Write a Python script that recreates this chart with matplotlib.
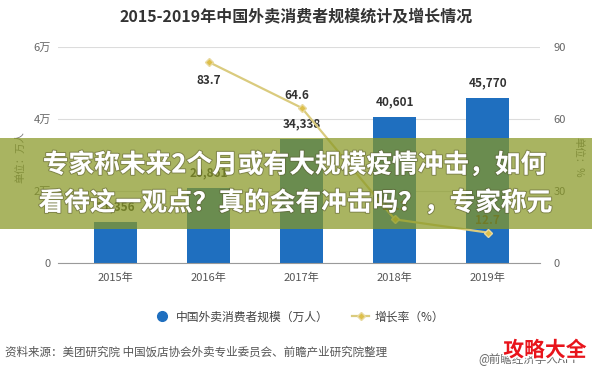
import matplotlib
matplotlib.use("Agg")
import matplotlib.pyplot as plt
import matplotlib.patheffects as pe
from matplotlib.patches import Rectangle
from matplotlib.lines import Line2D

plt.rcParams['font.family'] = ['Noto Sans CJK SC', 'DejaVu Sans']

years = ['2015年', '2016年', '2017年', '2018年', '2019年']
users = [11356, 20861, 34338, 40601, 45770]      # 万人
growth_years = [1, 2, 3, 4]                        # 2016-2019
growth = [83.7, 64.6, 18.2, 12.7]                  # %
left_ticks = [0, 20000, 40000, 60000]
left_labels = ['0', '2万', '4万', '6万']
right_ticks = [0, 30, 60, 90]

fig = plt.figure(figsize=(5.92, 3.69), dpi=100)
fig.patch.set_facecolor('white')

ax = fig.add_axes([0.098, 0.287, 0.814, 0.586])
x = list(range(len(years)))
ax.bar(x, users, width=0.46, color='#1F6FBF', zorder=2)
ax.set_xlim(-0.62, 4.56)
ax.set_ylim(0, 60000)
ax.set_yticks(left_ticks)
ax.set_yticklabels(left_labels)
ax.set_xticks(x)
ax.set_xticklabels(years)
ax.yaxis.grid(True, color='#dcdcdc', lw=0.8, zorder=0)
ax.set_axisbelow(True)
for s in ['top', 'right', 'left']:
    ax.spines[s].set_visible(False)
ax.spines['bottom'].set_color('#9a9a9a')
ax.tick_params(axis='y', length=0, pad=5, labelsize=8, labelcolor='#666666')
ax.tick_params(axis='x', length=0, pad=7, labelsize=8, labelcolor='#555555')

# bar value labels
for xi, v in zip(x, users):
    ax.text(xi, v + 2400, f'{v:,}', ha='center', va='bottom', fontsize=8.5,
            fontweight='bold', color='#333333', zorder=4)

ax2 = ax.twinx()
ax2.set_ylim(0, 90)
ax2.set_yticks(right_ticks)
for s in ax2.spines.values():
    s.set_visible(False)
ax2.tick_params(axis='y', length=0, pad=10, labelsize=8, labelcolor='#666666')
ax2.plot(growth_years, growth, color='#DACB7E', lw=1.6, marker='D', ms=4.5,
         mfc='#DDBF4A', mec='#E8D9A0', zorder=3)
offsets = [-13, 9, 9, 9]
for gx, g, off in zip(growth_years, growth, offsets):
    ax2.text(gx - 0.05 if gx == 2 else gx, g, f'{g}', ha='center',
             va='center', fontsize=8.5, fontweight='bold', color='#333333',
             transform=ax2.transData + matplotlib.transforms.ScaledTranslation(0, off / 72, fig.dpi_scale_trans),
             zorder=4)

fig.text(20 / 592, 1 - 157 / 369, '单位：万人', rotation=90, ha='center', va='center',
         fontsize=7.5, color='#777777')
fig.text(578 / 592, 1 - 157 / 369, '单位：%', rotation=-90, ha='center', va='center',
         fontsize=7.5, color='#777777')

fig.text(0.5, 1 - 17 / 369, '2015-2019年中国外卖消费者规模统计及增长情况', ha='center',
         va='center', fontsize=11.5, fontweight='bold', color='#333333')

handles = [
    Line2D([], [], ls='none', marker='o', ms=7, mfc='#1F6FBF', mec='#1F6FBF'),
    Line2D([], [], color='#DACB7E', lw=1.6, marker='D', ms=4.5, mfc='#DDBF4A', mec='#E8D9A0'),
]
fig.legend(handles, ['中国外卖消费者规模（万人）', '增长率（%）'], loc='center',
           bbox_to_anchor=(0.505, 1 - 317 / 369), ncol=2, frameon=False, fontsize=8.5,
           handlelength=1.4, columnspacing=2.0, handletextpad=0.5, labelcolor='#444444')

fig.text(5 / 592, 1 - 352 / 369, '资料来源：美团研究院 中国饭店协会外卖专业委员会、前瞻产业研究院整理',
         ha='left', va='center', fontsize=8.3, color='#555555')
fig.text(478 / 592, 1 - 359 / 369, '@前瞻经济学人APP', ha='left', va='center',
         fontsize=8.3, color='#666666')
fig.text(545 / 592, 1 - 350 / 369, '攻略大全', ha='center', va='center', fontsize=15,
         fontweight='bold', color='#E8141B', zorder=10,
         path_effects=[pe.withStroke(linewidth=2.5, foreground='white')])

# semi-transparent headline band over the chart
band = Rectangle((0, 1 - 229 / 369), 1, 91 / 369, transform=fig.transFigure,
                 facecolor=(136 / 255, 152 / 255, 36 / 255), alpha=0.72, lw=0, zorder=5)
fig.add_artist(band)
stroke = [pe.withStroke(linewidth=1.5, foreground=(0.35, 0.35, 0.2, 0.5))]
fig.text(295 / 592, 1 - 165 / 369, '专家称未来2个月或有大规模疫情冲击，如何', ha='center',
         va='center', fontsize=18.5, fontweight='bold', color='white', zorder=6,
         path_effects=stroke)
fig.text(296 / 592, 1 - 203 / 369, '看待这一观点？真的会有冲击吗？，专家称元', ha='center',
         va='center', fontsize=18.5, fontweight='bold', color='white', zorder=6,
         path_effects=stroke)

fig.savefig('out.png', dpi=100)
